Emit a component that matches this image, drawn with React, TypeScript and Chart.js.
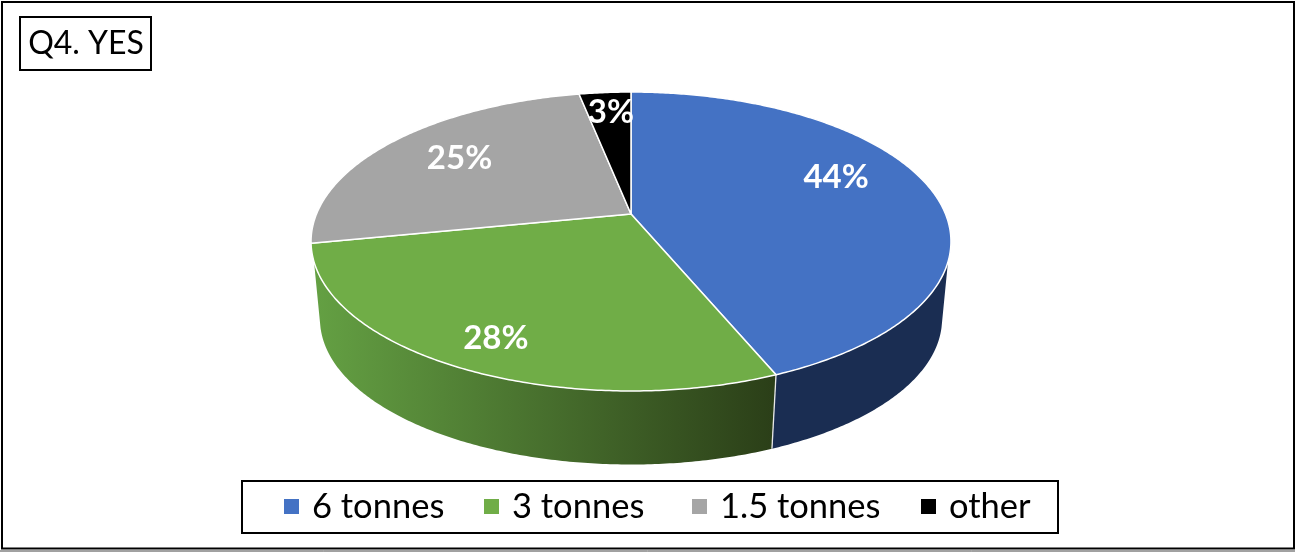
import React, { useEffect, useRef } from "react";
import { Chart, registerables } from "chart.js";

Chart.register(...registerables);

const categories = ["6 tonnes", "3 tonnes", "1.5 tonnes", "other"];
const responses = [14, 9, 8, 1];
const sliceColors = ["#4472C4", "#70AD47", "#A5A5A5", "#000000"];
const titleText = "Q4. YES";

const FONT = "Lato, Carlito, sans-serif";

// perspective projection of the unit disc onto the page
const view = { cx: 631, cy: 214, b: 314.5, a: 144.4, k: -0.184, depth: 78.5, bottomScale: 0.972, tangentTop: 0.318, tangentBottom: 0.24 };
// nudges of the value labels away from their default spot, in slice order
const labelNudges = [[18, -20], [-33, 37], [-19, -9], [-3, -22]];
const legendSwatchX = [284, 484, 692, 921];

function project(angle: number, r: number, lower: boolean) {
  const u = Math.cos(angle) * r;
  const v = Math.sin(angle) * r;
  const w = 1 + view.k * v;
  const s = lower ? view.bottomScale : 1;
  return { x: view.cx + (s * view.b * u) / w, y: view.cy + (lower ? view.depth : 0) + (s * view.a * v) / w };
}

function samples(start: number, end: number) {
  const out: number[] = [];
  const n = Math.max(2, Math.ceil((end - start) / 0.01));
  for (let i = 0; i <= n; i++) out.push(start + ((end - start) * i) / n);
  return out;
}

function sideFill(ctx: CanvasRenderingContext2D, index: number) {
  if (index === 1) {
    const g = ctx.createLinearGradient(315, 0, 772, 0);
    g.addColorStop(0, "#64a043");
    g.addColorStop(1, "#2b3f18");
    return g;
  }
  if (index === 0) return "#1a2d52";
  return index === 2 ? "#6f6f6f" : "#000000";
}

const projectedPie = {
  id: "projectedPie",
  beforeDatasetsDraw(chart: any) {
    const { ctx } = chart;
    const arcs = chart.getDatasetMeta(0).data;
    const total = responses.reduce((a, b) => a + b, 0);
    ctx.save();
    ctx.lineJoin = "round";
    // side wall: only the front part, between the two silhouette tangents
    arcs.forEach((arc: any, i: number) => {
      const from = Math.max(arc.startAngle, view.tangentTop);
      const to = Math.min(arc.endAngle, Math.PI - view.tangentTop);
      if (to <= from) return;
      const lowFrom = Math.max(arc.startAngle, view.tangentBottom);
      const lowTo = Math.min(arc.endAngle, Math.PI - view.tangentBottom);
      ctx.beginPath();
      samples(from, to).forEach((t, j) => {
        const p = project(t, 1, false);
        if (j === 0) ctx.moveTo(p.x, p.y);
        else ctx.lineTo(p.x, p.y);
      });
      samples(lowFrom, lowTo).reverse().forEach((t) => {
        const p = project(t, 1, true);
        ctx.lineTo(p.x, p.y);
      });
      ctx.closePath();
      ctx.fillStyle = sideFill(ctx, i);
      ctx.fill();
    });
    // seam between the two visible side walls
    const seam = arcs[0].endAngle;
    const p0 = project(seam, 1, false);
    const p1 = project(seam, 1, true);
    ctx.beginPath();
    ctx.moveTo(p0.x, p0.y);
    ctx.lineTo(p1.x, p1.y);
    ctx.strokeStyle = "#e8e8e8";
    ctx.lineWidth = 1.3;
    ctx.stroke();
    // top face
    arcs.forEach((arc: any, i: number) => {
      const { startAngle, endAngle } = arc;
      ctx.beginPath();
      const c = project(0, 0, false);
      ctx.moveTo(c.x, c.y);
      samples(startAngle, endAngle).forEach((t) => {
        const p = project(t, 1, false);
        ctx.lineTo(p.x, p.y);
      });
      ctx.closePath();
      ctx.fillStyle = sliceColors[i];
      ctx.fill();
      ctx.strokeStyle = "#ffffff";
      ctx.lineWidth = 1.5;
      ctx.stroke();
    });
    // value labels
    ctx.fillStyle = "#ffffff";
    ctx.font = `bold 33px ${FONT}`;
    ctx.textAlign = "center";
    ctx.textBaseline = "middle";
    arcs.forEach((arc: any, i: number) => {
      const mid = (arc.startAngle + arc.endAngle) / 2;
      const p = project(mid, 0.62, false);
      ctx.fillText(`${Math.round((responses[i] / total) * 100)}%`, p.x + labelNudges[i][0], p.y + labelNudges[i][1]);
    });
    ctx.restore();
    return false;
  },
  afterDraw(chart: any) {
    const { ctx } = chart;
    ctx.save();
    ctx.strokeStyle = "#000000";
    ctx.lineWidth = 2;
    ctx.strokeRect(2, 2, 1292, 546.5);
    ctx.beginPath();
    ctx.moveTo(0, 551);
    ctx.lineTo(1295, 551);
    ctx.lineWidth = 1;
    ctx.strokeStyle = "#444444";
    ctx.stroke();
    ctx.lineWidth = 2;
    ctx.strokeStyle = "#000000";
    ctx.strokeRect(242, 481, 816, 52);
    ctx.strokeRect(20, 17, 131, 53);
    ctx.fillStyle = "#000000";
    ctx.font = `32px ${FONT}`;
    ctx.textAlign = "center";
    ctx.textBaseline = "middle";
    ctx.fillText(titleText, 86, 44);
    // legend
    ctx.font = `34.5px ${FONT}`;
    ctx.textAlign = "left";
    categories.forEach((label, i) => {
      ctx.fillStyle = sliceColors[i];
      ctx.fillRect(legendSwatchX[i], 499, 15, 15);
      ctx.fillStyle = "#000000";
      ctx.fillText(label, legendSwatchX[i] + 28, 507);
    });
    ctx.restore();
  },
};

export default function App() {
  const ref = useRef<HTMLCanvasElement>(null);
  useEffect(() => {
    document.body.style.margin = "0";
    const chart = new Chart(ref.current!, {
      type: "pie",
      data: {
        labels: categories,
        datasets: [{ data: responses, backgroundColor: sliceColors, borderColor: "#ffffff" }],
      },
      options: {
        responsive: false,
        animation: false,
        plugins: {
          tooltip: { enabled: false },
          legend: { display: false },
        },
      },
      plugins: [projectedPie],
    });
    return () => chart.destroy();
  }, []);
  return <canvas ref={ref} width={1295} height={552} style={{ display: "block" }} />;
}
